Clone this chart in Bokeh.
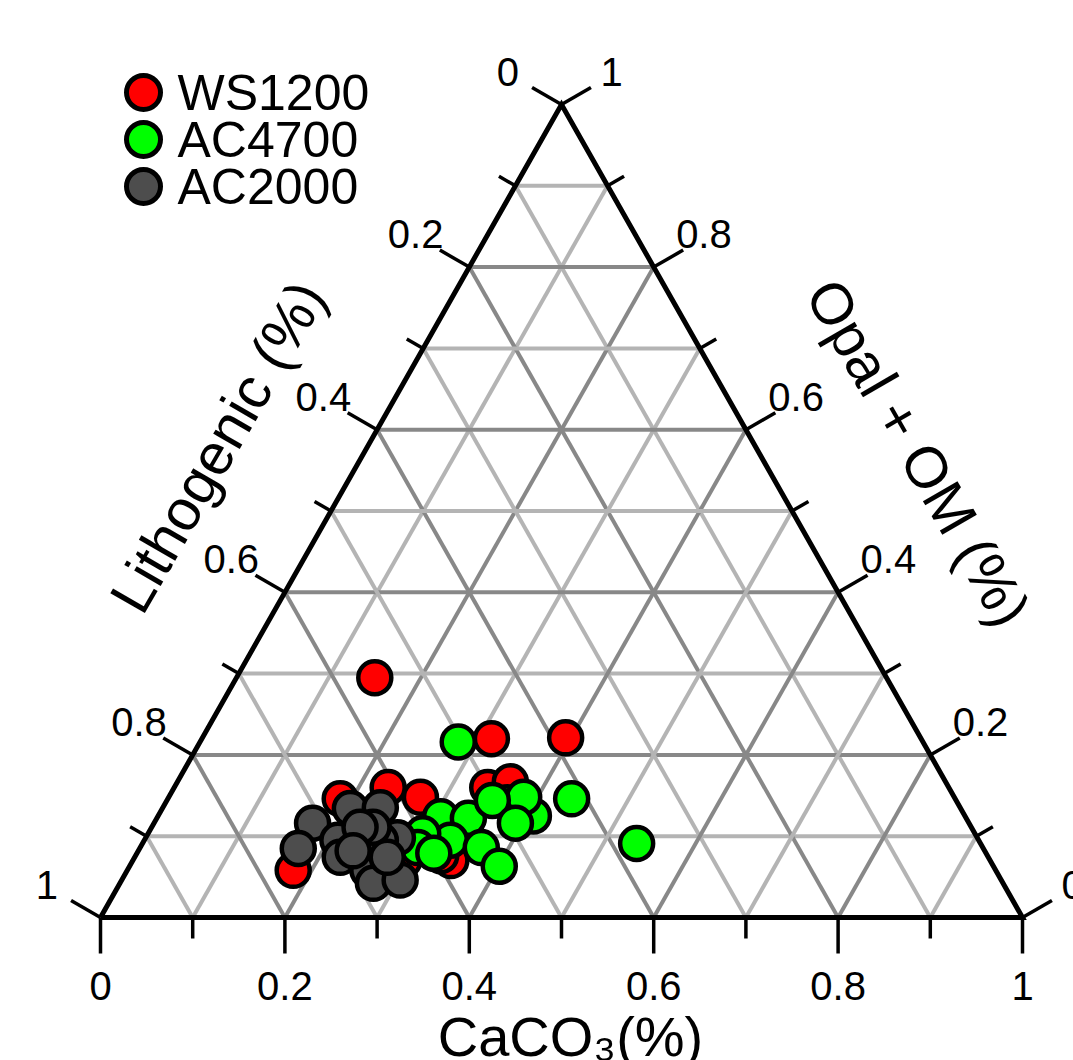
import numpy as np
from bokeh.plotting import figure
from bokeh.models import Range1d
from bokeh.core.properties import value
from bokeh.embed import file_html
from bokeh.resources import INLINE

# ---------------- data (fractions) ----------------
series_names = ["WS1200", "AC4700", "AC2000"]
series_colors = ["#ff0000", "#00ff00", "#4d4d4d"]

ws1200_caco3 = [0.150, 0.314, 0.394, 0.232, 0.187, 0.180, 0.273, 0.340, 0.361, 0.345, 0.294, 0.331]
ws1200_opal = [0.295, 0.220, 0.221, 0.160, 0.146, 0.058, 0.148, 0.160, 0.167, 0.070, 0.070, 0.076]
ws1200_litho = [0.555, 0.466, 0.385, 0.608, 0.667, 0.762, 0.579, 0.500, 0.472, 0.585, 0.636, 0.593]

ac4700_caco3 = [0.280, 0.438, 0.536, 0.307, 0.338, 0.332, 0.370, 0.401, 0.371, 0.407, 0.385, 0.353, 0.392, 0.298, 0.301, 0.322]
ac4700_opal = [0.216, 0.146, 0.091, 0.124, 0.122, 0.095, 0.086, 0.063, 0.141, 0.125, 0.148, 0.144, 0.116, 0.103, 0.086, 0.079]
ac4700_litho = [0.504, 0.416, 0.373, 0.569, 0.540, 0.573, 0.544, 0.536, 0.488, 0.468, 0.467, 0.503, 0.492, 0.599, 0.613, 0.599]

ac2000_caco3 = [0.172, 0.172, 0.204, 0.236, 0.210, 0.223, 0.248, 0.261, 0.275, 0.302, 0.273, 0.256, 0.240, 0.226, 0.233, 0.274]
ac2000_opal = [0.116, 0.085, 0.134, 0.135, 0.095, 0.074, 0.074, 0.058, 0.042, 0.046, 0.098, 0.095, 0.111, 0.111, 0.082, 0.074]
ac2000_litho = [0.712, 0.743, 0.662, 0.629, 0.695, 0.703, 0.678, 0.681, 0.683, 0.652, 0.629, 0.649, 0.649, 0.663, 0.685, 0.652]

tick_values = [0.0, 0.1, 0.2, 0.3, 0.4, 0.5, 0.6, 0.7, 0.8, 0.9, 1.0]
tick_labels = ["0", "", "0.2", "", "0.4", "", "0.6", "", "0.8", "", "1"]

axis_titles = ["CaCO\u2083(%)", "Lithogenic (%)", "Opal + OM (%)"]

# ---------------- geometry ----------------
W, H = 1073, 1060
X0, XW = 100.0, 922.0   # pixel of X=0 and pixel width of unit X
Y0, YH = 917.0, 813.0   # pixel of Y=0 and pixel height of unit Y

def px2x(px):
    return (px - X0) / XW

def py2y(py):
    return (Y0 - py) / YH

def dpx(d):
    return d / XW

def dpy(d):
    return d / YH

def tern(c, o, l):
    c = np.asarray(c, float); o = np.asarray(o, float); l = np.asarray(l, float)
    s = c + o + l
    c, o = c / s, o / s
    return c + o / 2.0, o

p = figure(width=W, height=H, output_backend="svg", toolbar_location=None,
           x_range=Range1d(px2x(0), px2x(W)), y_range=Range1d(py2y(H), py2y(0)),
           min_border=0, outline_line_color=None, background_fill_color="white")
p.axis.visible = False
p.grid.visible = False

FONT = value("Liberation Sans")

# ---------------- grid ----------------
light, dark = "#b4b4b4", "#888888"
for i in range(1, 10):
    v = i / 10.0
    col = dark if i % 2 == 0 else light
    xs, ys = [], []
    # constant Opal
    a = tern(0, v, 1 - v); b = tern(1 - v, v, 0)
    xs.append([float(a[0]), float(b[0])]); ys.append([float(a[1]), float(b[1])])
    # constant CaCO3
    a = tern(v, 0, 1 - v); b = tern(v, 1 - v, 0)
    xs.append([float(a[0]), float(b[0])]); ys.append([float(a[1]), float(b[1])])
    # constant Lithogenic
    a = tern(1 - v, 0, v); b = tern(0, 1 - v, v)
    xs.append([float(a[0]), float(b[0])]); ys.append([float(a[1]), float(b[1])])
    p.multi_line(xs, ys, line_color=col, line_width=4)

# ---------------- frame ----------------
cx, cy = tern([0, 1, 0, 0], [0, 0, 1, 0], [1, 0, 0, 1])
p.line(cx, cy, line_color="black", line_width=5, line_join="miter")

# ---------------- ticks ----------------
MAJ, MIN = 34.0, 19.0
tx0, ty0, tx1, ty1 = [], [], [], []
lab_x, lab_y, lab_t = [], [], []
for i, v in enumerate(tick_values):
    ln = MAJ if i % 2 == 0 else MIN
    # bottom: CaCO3
    bx, by = tern(v, 0, 1 - v)
    tx0.append(float(bx)); ty0.append(float(by))
    tx1.append(float(bx)); ty1.append(float(by) - dpy(ln + 2))
    if tick_labels[i]:
        lab_x.append(float(bx)); lab_y.append(float(by) - dpy(68)); lab_t.append(tick_labels[i])
    # left: Lithogenic
    lx, ly = tern(0, 1 - v, v)
    tx0.append(float(lx)); ty0.append(float(ly))
    tx1.append(float(lx) - dpx(0.866 * ln)); ty1.append(float(ly) + dpy(0.5 * ln))
    if tick_labels[i]:
        lab_x.append(float(lx) - dpx(0.866 * 62)); lab_y.append(float(ly) + dpy(0.5 * 62 + 2)); lab_t.append(tick_labels[i])
    # right: Opal + OM
    rx, ry = tern(1 - v, v, 0)
    tx0.append(float(rx)); ty0.append(float(ry))
    tx1.append(float(rx) + dpx(0.866 * ln)); ty1.append(float(ry) + dpy(0.5 * ln))
    if tick_labels[i]:
        lab_x.append(float(rx) + dpx(0.866 * 58)); lab_y.append(float(ry) + dpy(0.5 * 58 + 4)); lab_t.append(tick_labels[i])
p.segment(tx0, ty0, tx1, ty1, line_color="black", line_width=3.5)
p.text(lab_x, lab_y, text=lab_t, text_font=FONT, text_font_size=value("40px"),
       text_align="center", text_baseline="middle", text_color="black")

# ---------------- axis titles ----------------
p.text([px2x(570)], [py2y(1036)], text=[axis_titles[0]], text_font=FONT,
       text_font_size=value("56px"), text_align="center", text_baseline="middle")
p.text([px2x(217)], [py2y(446)], text=[axis_titles[1]], text_font=FONT,
       text_font_size=value("58px"), text_align="center", text_baseline="middle",
       angle=np.pi / 3)
p.text([px2x(918)], [py2y(452)], text=[axis_titles[2]], text_font=FONT,
       text_font_size=value("58px"), text_align="center", text_baseline="middle",
       angle=-np.pi / 3)

# ---------------- data points ----------------
data = [(ws1200_caco3, ws1200_opal, ws1200_litho),
        (ac4700_caco3, ac4700_opal, ac4700_litho),
        (ac2000_caco3, ac2000_opal, ac2000_litho)]
for (c, o, l), col in zip(data, series_colors):
    x, y = tern(c, o, l)
    p.scatter(x, y, size=33, fill_color=col, line_color="black", line_width=4.5)

# ---------------- legend ----------------
leg_py = [92, 139, 186]
for name, col, yy in zip(series_names, series_colors, leg_py):
    p.scatter([px2x(143)], [py2y(yy)], size=34, fill_color=col, line_color="black", line_width=5)
    p.text([px2x(177)], [py2y(yy)], text=[name], text_font=FONT, text_font_size=value("50px"),
           text_align="left", text_baseline="middle", text_color="black")

open("out.html", "w").write(file_html(p, INLINE))
